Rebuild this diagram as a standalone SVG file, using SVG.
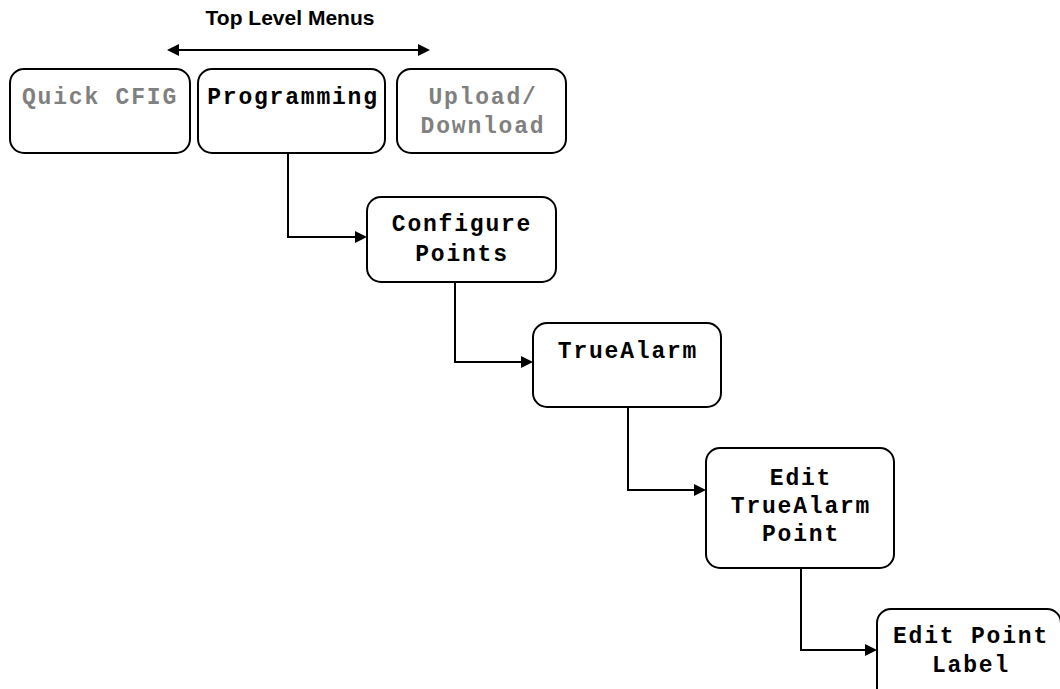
<svg xmlns="http://www.w3.org/2000/svg" width="1060" height="689" viewBox="0 0 1060 689">
<defs>
<style>
.box{fill:#fff;stroke:#000;stroke-width:2}
.t{font-family:"Liberation Mono","Courier New",monospace;font-weight:bold;font-size:23px;letter-spacing:1.8px;text-anchor:middle;fill:#000}
.g{fill:#808080}
.c{fill:none;stroke:#000;stroke-width:2}
.a{fill:#000}
.h{font-family:"Liberation Sans",Arial,sans-serif;font-weight:bold;font-size:21px;text-anchor:middle;fill:#000}
</style>
</defs>
<rect width="1060" height="689" fill="#fff"/>
<text class="h" x="290" y="25">Top Level Menus</text>
<g id="connectors">
<line class="c" x1="176" y1="50" x2="420" y2="50"/>
<path class="a" d="M167,50 L179,44 L179,56 z"/>
<path class="a" d="M430,50 L418,44 L418,56 z"/>
<path class="c" d="M288,153 V237 H356"/>
<path class="a" d="M367,237 L355,231 L355,243 z"/>
<path class="c" d="M455,282 V362 H522"/>
<path class="a" d="M533,362 L521,356 L521,368 z"/>
<path class="c" d="M628,407 V490 H695"/>
<path class="a" d="M706,490 L694,484 L694,496 z"/>
<path class="c" d="M801,568 V650 H866"/>
<path class="a" d="M877,650 L865,644 L865,656 z"/>
</g>
<g id="quick-cfig">
<rect class="box" x="10" y="69" width="180" height="84" rx="14"/>
<text class="t g" x="100" y="104">Quick CFIG</text>
</g>
<g id="programming">
<rect class="box" x="198" y="69" width="187" height="84" rx="14"/>
<text class="t" x="293" y="104">Programming</text>
</g>
<g id="upload-download">
<rect class="box" x="397" y="69" width="169" height="84" rx="14"/>
<text class="t g" x="483" y="104">Upload/</text>
<text class="t g" x="483" y="133">Download</text>
</g>
<g id="configure-points">
<rect class="box" x="367" y="197" width="189" height="85" rx="14"/>
<text class="t" x="462" y="231">Configure</text>
<text class="t" x="462" y="261">Points</text>
</g>
<g id="truealarm">
<rect class="box" x="533" y="323" width="188" height="84" rx="14"/>
<text class="t" x="628" y="358">TrueAlarm</text>
</g>
<g id="edit-truealarm-point">
<rect class="box" x="706" y="448" width="188" height="120" rx="14"/>
<text class="t" x="801" y="485">Edit</text>
<text class="t" x="801" y="513">TrueAlarm</text>
<text class="t" x="801" y="541">Point</text>
</g>
<g id="edit-point-label">
<rect class="box" x="877" y="609" width="184" height="100" rx="14"/>
<text class="t" x="971" y="643">Edit Point</text>
<text class="t" x="971" y="672">Label</text>
</g>
</svg>
